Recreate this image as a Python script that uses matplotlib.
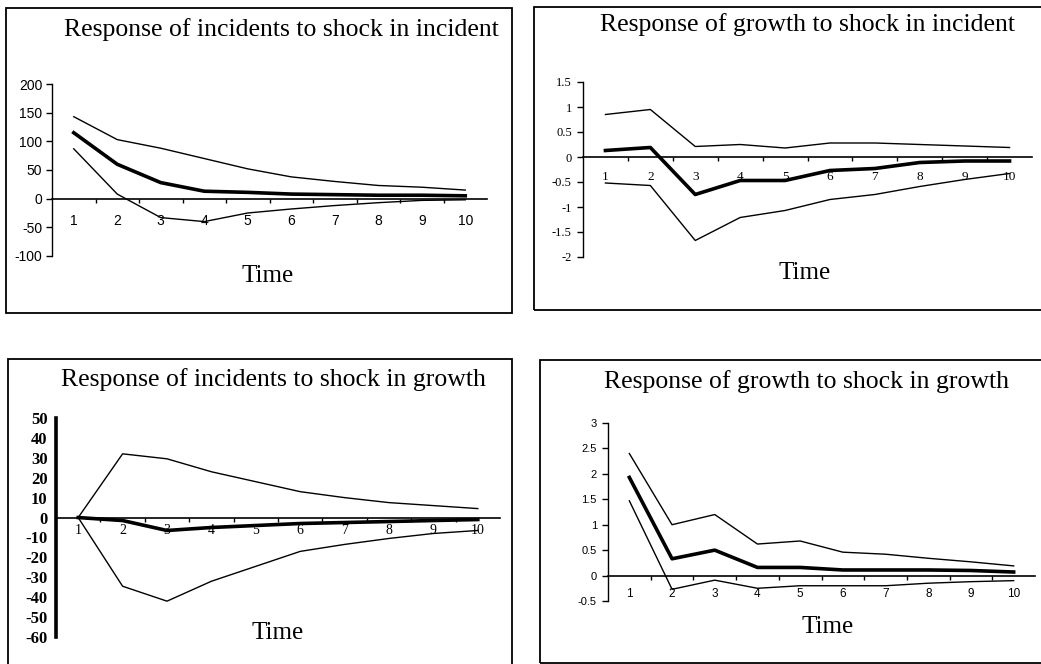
import numpy as np
import matplotlib.pyplot as plt
from matplotlib.patches import Rectangle

W, H = 1041, 664
periods = np.arange(1, 11)

# response of incidents to shock in incident
inc_inc_up = [143, 103, 88, 70, 52, 38, 30, 23, 20, 15]
inc_inc_mid = [115, 60, 28, 13, 11, 8, 7, 6, 6, 5]
inc_inc_lo = [87, 8, -33, -40, -25, -18, -12, -7, -3, -2]

# response of growth to shock in incident
gro_inc_up = [0.85, 0.95, 0.21, 0.25, 0.18, 0.28, 0.28, 0.25, 0.22, 0.19]
gro_inc_mid = [0.13, 0.19, -0.75, -0.47, -0.47, -0.27, -0.23, -0.11, -0.08, -0.08]
gro_inc_lo = [-0.52, -0.57, -1.67, -1.21, -1.07, -0.85, -0.75, -0.59, -0.45, -0.33]

# response of incidents to shock in growth
inc_gro_up = [0, 32, 29.5, 23, 18, 13, 10, 7.5, 6, 4.5]
inc_gro_mid = [0, -1.5, -6.5, -5, -4, -3, -2.5, -2, -1.5, -1]
inc_gro_lo = [0, -34.5, -42, -32, -24.5, -17, -13.5, -10.5, -8, -6.5]

# response of growth to shock in growth
gro_gro_up = [2.4, 1.0, 1.2, 0.62, 0.68, 0.46, 0.42, 0.34, 0.27, 0.19]
gro_gro_mid = [1.93, 0.33, 0.5, 0.16, 0.16, 0.11, 0.11, 0.11, 0.1, 0.07]
gro_gro_lo = [1.47, -0.27, -0.09, -0.25, -0.2, -0.2, -0.2, -0.15, -0.12, -0.1]

titles = ["Response of incidents to shock in incident",
          "Response of growth to shock in incident",
          "Response of incidents to shock in growth",
          "Response of growth to shock in growth"]

fig = plt.figure(figsize=(W / 100, H / 100), dpi=100)


def fx(x):
    return x / W


def fy(y):
    return 1 - y / H


def box(x0, y0, x1, y1):
    r = Rectangle((fx(x0), fy(y1)), fx(x1) - fx(x0), fy(y0) - fy(y1),
                  transform=fig.transFigure, fill=False, lw=1.3,
                  edgecolor='black')
    fig.patches.append(r)


def panel(left, right, ytop, ybot, ylim, yticks, ylabels, up, mid, lo,
          yfont, xfont, xpad, ypad, ylen, spine_lw=1.0):
    ax = fig.add_axes([fx(left), fy(ybot), fx(right) - fx(left), fy(ytop) - fy(ybot)])
    ax.plot(periods, up, color='black', lw=1.0)
    ax.plot(periods, lo, color='black', lw=1.0)
    ax.plot(periods, mid, color='black', lw=2.6)
    ax.set_xlim(0.5, 10.5)
    ax.set_ylim(*ylim)
    ax.patch.set_alpha(0)
    for s in ['top', 'right']:
        ax.spines[s].set_visible(False)
    ax.spines['bottom'].set_position(('data', 0))
    ax.spines['bottom'].set_linewidth(1.2)
    ax.spines['left'].set_linewidth(spine_lw)
    ax.set_xticks(periods)
    ax.set_xticklabels([str(p) for p in periods], **xfont)
    ax.set_xticks(np.arange(1.5, 10.5, 1), minor=True)
    ax.tick_params(axis='x', which='major', length=0, pad=xpad)
    ax.tick_params(axis='x', which='minor', length=3, direction='out', width=1)
    ax.set_yticks(yticks)
    ax.set_yticklabels(ylabels, **yfont)
    ax.tick_params(axis='y', length=ylen, pad=ypad, width=1)
    return ax


sans = dict(family='Liberation Sans')
serif = dict(family='Liberation Serif')
TSIZE = 18.5

# panel 1
box(6, 8, 512, 313)
panel(52, 487, 84, 256, (-100, 200), [-100, -50, 0, 50, 100, 150, 200],
      ['-100', '-50', '0', '50', '100', '150', '200'],
      inc_inc_up, inc_inc_mid, inc_inc_lo,
      dict(sans, fontsize=10), dict(sans, fontsize=10), 11, 3, 4)
fig.text(fx(281), fy(30), titles[0], ha='center', va='center', fontsize=TSIZE, **serif)
fig.text(fx(268), fy(276), "Time", ha='center', va='center', fontsize=18, **serif)

# panel 2
box(534, 7, 1045, 310)
panel(583, 1032, 82, 257, (-2, 1.5), [-2, -1.5, -1, -0.5, 0, 0.5, 1, 1.5],
      ['-2', '-1.5', '-1', '-0.5', '0', '0.5', '1', '1.5'],
      gro_inc_up, gro_inc_mid, gro_inc_lo,
      dict(serif, fontsize=9), dict(serif, fontsize=9.5), 10, 4, 4)
fig.text(fx(808), fy(25), titles[1], ha='center', va='center', fontsize=TSIZE, **serif)
fig.text(fx(805), fy(273), "Time", ha='center', va='center', fontsize=18, **serif)

# panel 3
box(8, 359, 512, 670)
panel(56, 500, 418, 637, (-60, 50), list(range(-60, 51, 10)),
      [str(v) for v in range(-60, 51, 10)],
      inc_gro_up, inc_gro_mid, inc_gro_lo,
      dict(serif, fontsize=12, fontweight='bold'), dict(serif, fontsize=10), 5, 6, 0,
      spine_lw=2.6)
fig.text(fx(273), fy(380), titles[2], ha='center', va='center', fontsize=TSIZE, **serif)
fig.text(fx(278), fy(633), "Time", ha='center', va='center', fontsize=18, **serif)

# panel 4
box(540, 360, 1045, 663)
panel(608, 1035, 423, 601, (-0.5, 3), [-0.5, 0, 0.5, 1, 1.5, 2, 2.5, 3],
      ['-0.5', '0', '0.5', '1', '1.5', '2', '2.5', '3'],
      gro_gro_up, gro_gro_mid, gro_gro_lo,
      dict(sans, fontsize=8), dict(sans, fontsize=8.5), 9, 4, 4)
fig.text(fx(807), fy(382), titles[3], ha='center', va='center', fontsize=TSIZE, **serif)
fig.text(fx(828), fy(627), "Time", ha='center', va='center', fontsize=18, **serif)

fig.savefig("out.png", dpi=100)
